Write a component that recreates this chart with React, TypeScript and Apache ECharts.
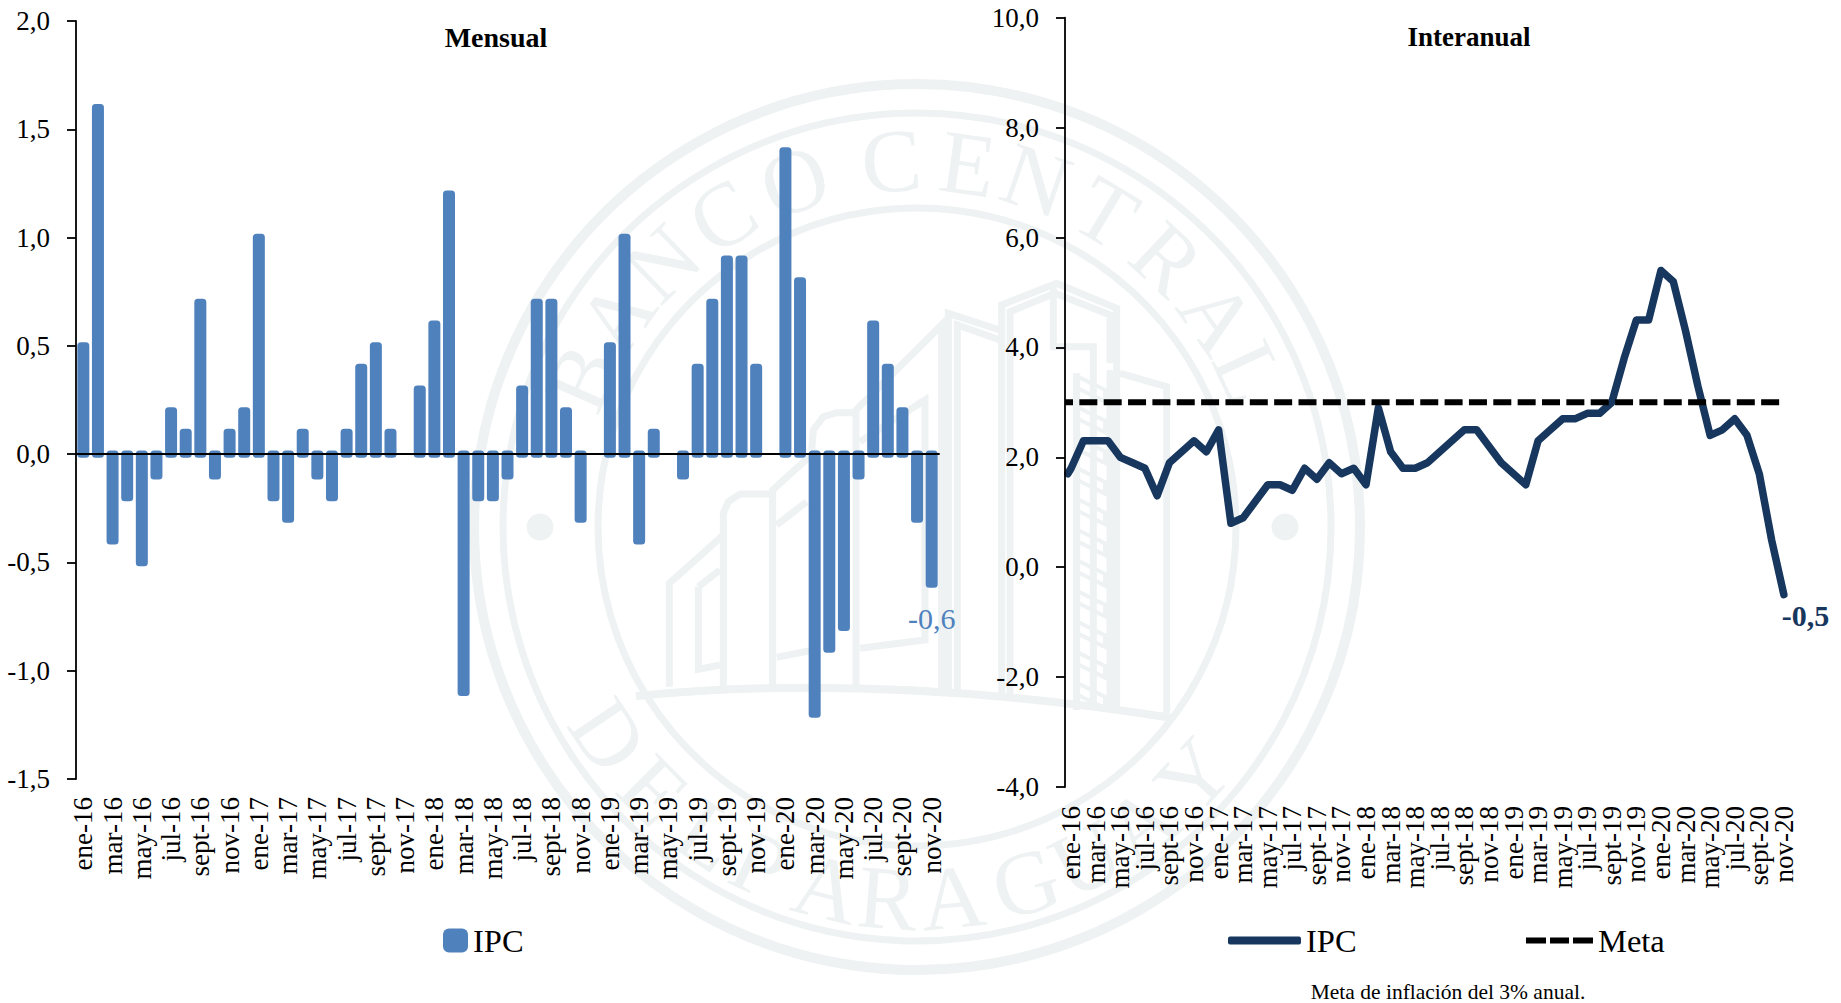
import React, { useEffect, useRef } from "react";
import * as echarts from "echarts";

const FONT = "Liberation Serif";
const BLUE = "#4F81BD";
const NAVY = "#17375E";
const SEAL = "#EEF2F3";

const months = ["ene", "feb", "mar", "abr", "may", "jun", "jul", "ago", "sept", "oct", "nov", "dic"];
const years = ["16", "17", "18", "19", "20"];
const categories: string[] = years
  .flatMap((y) => months.map((m) => `${m}-${y}`))
  .slice(0, 59);

const mensual = [
  0.5, 1.6, -0.4, -0.2, -0.5, -0.1, 0.2, 0.1, 0.7, -0.1, 0.1, 0.2,
  1.0, -0.2, -0.3, 0.1, -0.1, -0.2, 0.1, 0.4, 0.5, 0.1, null, 0.3,
  0.6, 1.2, -1.1, -0.2, -0.2, -0.1, 0.3, 0.7, 0.7, 0.2, -0.3, null,
  0.5, 1.0, -0.4, 0.1, null, -0.1, 0.4, 0.7, 0.9, 0.9, 0.4, null,
  1.4, 0.8, -1.2, -0.9, -0.8, -0.1, 0.6, 0.4, 0.2, -0.3, -0.6,
];

// the line enters from behind the axis in the reference, before ene-16
const interanualPrevio = 1.7;
const interanual = [
  1.8, 2.3, 2.3, 2.3, 2.0, 1.9, 1.8, 1.3, 1.9, 2.1, 2.3, 2.1,
  2.5, 0.8, 0.9, 1.2, 1.5, 1.5, 1.4, 1.8, 1.6, 1.9, 1.7, 1.8,
  1.5, 2.9, 2.1, 1.8, 1.8, 1.9, 2.1, 2.3, 2.5, 2.5, 2.2, 1.9,
  1.7, 1.5, 2.3, 2.5, 2.7, 2.7, 2.8, 2.8, 3.0, 3.8, 4.5, 4.5,
  5.4, 5.2, 4.3, 3.3, 2.4, 2.5, 2.7, 2.4, 1.7, 0.5, -0.5,
];
const metaValor = 3;

const fmt = (v: number) => v.toFixed(1).replace(".", ",");

const CX = 917;
const CY = 527;
const topLetters: [string, number][] = [
  ["B", -66], ["A", -55], ["N", -44], ["C", -32], ["O", -19.5], ["C", -4], ["E", 8],
  ["N", 19], ["T", 31], ["R", 43], ["A", 55], ["L", 65],
];
const bottomLetters: [string, number][] = [
  ["D", -56], ["E", -45], ["L", -34], ["P", -25], ["A", -14], ["R", -4.5],
  ["A", 5.5], ["G", 17], ["U", 27], ["A", 37], ["Y", 48],
];

// seal outlines, written in the coordinates of a 3x crop starting at (620,250)
const sealLines: number[][][] = [
  [[148, 1310], [148, 1000], [310, 855]],
  [[310, 1310], [310, 790], [325, 755], [360, 732], [455, 732]],
  [[458, 1310], [458, 720], [590, 600]],
  [[470, 825], [560, 755]],
  [[235, 1010], [235, 1258], [300, 1245]],
  [[235, 1010], [300, 960]],
  [[470, 1222], [580, 1200]],
  [[575, 600], [580, 540], [610, 500], [650, 488], [705, 488]],
  [[708, 1310], [708, 480], [965, 225], [965, 1320]],
  [[720, 575], [915, 450], [915, 1170], [720, 1195]],
  [[985, 1320], [985, 190], [1140, 240]],
  [[1012, 1320], [1012, 225], [1140, 270]],
  [[1145, 1340], [1145, 165], [1310, 100], [1490, 175], [1490, 1370]],
  [[1170, 1340], [1170, 185], [1305, 130], [1470, 195], [1470, 340]],
  [[1300, 110], [1300, 290], [1420, 290], [1420, 1370]],
  [[1370, 370], [1370, 1380]],
  [[1470, 360], [1470, 1380]],
  [[1500, 370], [1640, 410], [1640, 1390]],
];

function sealGraphics() {
  const z = -10;
  const stroke = { fill: "none", stroke: SEAL };
  const out: any[] = [];
  [[443, 10], [414, 7], [319, 7]].forEach(([r, w]) =>
    out.push({ type: "circle", z, silent: true, shape: { cx: CX, cy: CY, r }, style: { ...stroke, lineWidth: w } }),
  );
  [540, 1285].forEach((cx) =>
    out.push({ type: "circle", z, silent: true, shape: { cx, cy: CY, r: 13.5 }, style: { fill: SEAL } }),
  );
  sealLines.forEach((pts) =>
    out.push({
      type: "polyline", z, silent: true,
      shape: { points: pts.map(([x, y]) => [620 + x / 3, 250 + y / 3]) },
      style: { ...stroke, lineWidth: 7 },
    }),
  );
  for (let y = 380; y < 1370; y += 92) {
    out.push({
      type: "polyline", z, silent: true,
      shape: { points: [[1078, 250 + y / 3], [1105, 250 + (y + 40) / 3], [1105, 250 + (y + 75) / 3], [1078, 250 + (y + 35) / 3], [1078, 250 + y / 3]] },
      style: { ...stroke, lineWidth: 4 },
    });
  }
  out.push({
    type: "bezierCurve", z, silent: true,
    shape: { x1: 636, y1: 696, x2: 1172, y2: 718, cpx1: 880, cpy1: 672 },
    style: { ...stroke, lineWidth: 8 },
  });
  const letter = (ch: string, deg: number, bottom: boolean) => {
    const a = (deg * Math.PI) / 180;
    const r = bottom ? 372 : 367;
    return {
      type: "text", z, silent: true,
      x: CX + r * Math.sin(a),
      y: bottom ? CY + r * Math.cos(a) : CY - r * Math.cos(a),
      rotation: bottom ? a : -a,
      style: { text: ch, x: 0, y: 0, align: "center", verticalAlign: "middle", fill: SEAL, font: `90px "${FONT}"` },
    };
  };
  topLetters.forEach(([c, d]) => out.push(letter(c, d, false)));
  bottomLetters.forEach(([c, d]) => out.push(letter(c, d, true)));
  return out;
}

const axisLine = { lineStyle: { color: "#000", width: 1.8 } };
const tick = { lineStyle: { color: "#000", width: 1.8 } };
const yLabel = { fontFamily: FONT, fontSize: 27, color: "#000", margin: 26, formatter: (v: number) => fmt(v) };
// every band gets a label slot and odd months stay empty: the narrow bands of the
// right-hand chart would otherwise lose labels to the overlap check at both ends
const xLabel = {
  fontFamily: FONT, fontSize: 27, color: "#000", rotate: 90, interval: 0, hideOverlap: false,
  formatter: (v: string, i: number) => (i % 2 === 0 ? v : ""),
};
const legendCommon = { top: 924, padding: 0, textStyle: { fontFamily: FONT, fontSize: 32.5, color: "#000" }, selectedMode: false, symbolKeepAspect: false };

// a bar whose rounded ends run a few pixels past its value and past zero
function renderBar(_params: any, api: any) {
  const i = api.value(0);
  const v = api.value(1);
  if (v == null || isNaN(v)) return null;
  const [cx, yv] = api.coord([i, v]);
  const [, y0] = api.coord([i, 0]);
  const w = 12;
  const over = 3.7;
  const top = Math.min(yv, y0) - over;
  const h = Math.abs(yv - y0) + over * 2;
  const children: any[] = [
    { type: "rect", shape: { x: cx - w / 2, y: top, width: w, height: h, r: 3.5 }, style: { fill: BLUE } },
  ];
  if (i === mensual.length - 1) {
    children.push({
      type: "text", x: cx, y: yv + 34.5,
      style: { text: fmt(v), align: "center", verticalAlign: "middle", fill: BLUE, font: `30px "${FONT}"` },
    });
  }
  return { type: "group", children };
}

export default function App() {
  const ref = useRef<HTMLDivElement>(null);
  useEffect(() => {
    const chart = echarts.init(ref.current!, undefined, { renderer: "svg" });
    chart.setOption({
      animation: false,
      backgroundColor: "#fff",
      graphic: { elements: sealGraphics() },
      title: [
        { text: "Mensual", left: 496, top: 23, padding: 0, textAlign: "center", textStyle: { fontFamily: FONT, fontSize: 28, fontWeight: "bold", color: "#000" } },
        { text: "Interanual", left: 1469, top: 23, padding: 0, textAlign: "center", textStyle: { fontFamily: FONT, fontSize: 27, fontWeight: "bold", color: "#000" } },
        { text: "Meta de inflación del 3% anual.", left: 1448, top: 981, padding: 0, textAlign: "center", textStyle: { fontFamily: FONT, fontSize: 21.5, fontWeight: "normal", color: "#000" } },
      ],
      legend: [
        { ...legendCommon, left: 443, data: [{ name: "IPC mensual", icon: "roundRect", itemStyle: { color: BLUE } }], itemWidth: 25, itemHeight: 24, formatter: () => "IPC" },
        { ...legendCommon, left: 1228, data: [{ name: "IPC interanual", icon: "roundRect" }], itemWidth: 73, itemHeight: 8, formatter: () => "IPC" },
        { ...legendCommon, left: 1526, data: [{ name: "Meta", icon: "path://M0 0H20V6H0ZM24 0H43V6H24ZM47 0H67V6H47Z" }], itemWidth: 67, itemHeight: 6 },
      ],
      grid: [
        { left: 76, top: 21, width: 863, height: 758 },
        { left: 1065, top: 17.7, width: 725, height: 769.3 },
      ],
      xAxis: [
        { type: "category", gridIndex: 0, data: categories, z: 5, axisLine: { ...axisLine, onZero: true }, axisTick: { ...tick, interval: 1, length: 7, inside: false }, axisLabel: { show: false }, splitLine: { show: false } },
        { type: "category", gridIndex: 0, position: "bottom", data: categories, axisLine: { show: false, onZero: false }, axisTick: { show: false }, axisLabel: { ...xLabel, margin: 18 }, splitLine: { show: false } },
        { type: "category", gridIndex: 1, position: "bottom", data: categories, axisLine: { show: false, onZero: false }, axisTick: { show: false }, axisLabel: { ...xLabel, margin: 19 }, splitLine: { show: false } },
        { type: "value", gridIndex: 1, show: false, min: -0.5, max: 58.5, splitLine: { show: false } },
      ],
      yAxis: [
        { type: "value", gridIndex: 0, min: -1.5, max: 2, interval: 0.5, z: 5, axisLine: { show: true, ...axisLine, onZero: false }, axisTick: { show: true, ...tick, length: 9 }, axisLabel: yLabel, splitLine: { show: false } },
        { type: "value", gridIndex: 1, min: -4, max: 10, interval: 2, z: 5, axisLine: { show: true, ...axisLine, onZero: false }, axisTick: { show: true, ...tick, length: 9 }, axisLabel: yLabel, splitLine: { show: false } },
      ],
      series: [
        {
          name: "IPC mensual", type: "custom", xAxisIndex: 0, yAxisIndex: 0, z: 2,
          renderItem: renderBar,
          itemStyle: { color: BLUE },
          encode: { x: 0, y: 1 },
          data: mensual.map((v, i) => [i, v]),
        },
        {
          name: "IPC interanual", type: "line", xAxisIndex: 3, yAxisIndex: 1, symbol: "none", clip: false,
          lineStyle: { color: NAVY, width: 7.5, cap: "round", join: "round" },
          itemStyle: { color: NAVY },
          endLabel: { show: true, distance: 0, offset: [-2, 21], fontFamily: FONT, fontSize: 30, fontWeight: "bold", color: NAVY, formatter: () => fmt(interanual[interanual.length - 1]) },
          data: [[-0.27, interanualPrevio], ...interanual.map((v, i) => [i, v])],
        },
        {
          name: "Meta", type: "line", xAxisIndex: 3, yAxisIndex: 1, symbol: "none", clip: false,
          lineStyle: { color: "#000", width: 6, type: [18, 6.35], dashOffset: 10.4 },
          itemStyle: { color: "#000" },
          data: [[-0.5, metaValor], ...interanual.map((_, i) => [i, metaValor])],
        },
      ],
    });
    return () => chart.dispose();
  }, []);
  return <div ref={ref} style={{ position: "fixed", left: 0, top: 0, width: 1841, height: 1003 }} />;
}
